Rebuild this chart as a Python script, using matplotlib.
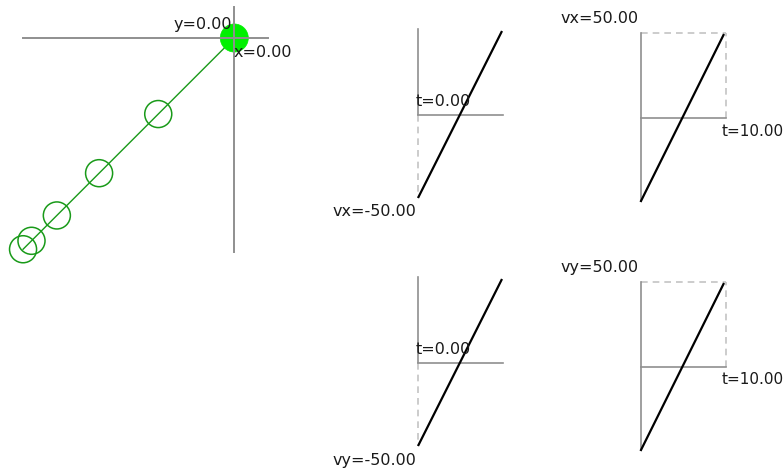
import matplotlib
matplotlib.use("Agg")
import matplotlib.pyplot as plt
from matplotlib.patches import Circle

W, H = 783, 475
DPI = 100

# --- data -------------------------------------------------------------
# ball position (x = y) at successive whole seconds, a = 10, v0 = -50
trail_t = [1, 2, 3, 4, 5]
trail_x = [-45, -80, -105, -120, -125]
trail_y = [-45, -80, -105, -120, -125]
path_x = [0, -125]
path_y = [0, -125]
ball_x, ball_y = 0.0, 0.0

# velocity against time
t_vals = [0, 10]
vx_vals = [-50, 50]
vy_vals = [-50, 50]

x_label = "x=0.00"
y_label = "y=0.00"
t_start_label = "t=0.00"
t_end_label = "t=10.00"
vx_min_label, vx_max_label = "vx=-50.00", "vx=50.00"
vy_min_label, vy_max_label = "vy=-50.00", "vy=50.00"

# --- styling ----------------------------------------------------------
AXIS_GREY = "#8f8f8f"
DASH_GREY = "#c4c4c4"
TRAIL_GREEN = "#199a19"
BALL_GREEN = "#00f000"
FONT = dict(family="DejaVu Sans", size=11.5, color="#1a1a1a")

fig = plt.figure(figsize=(W / DPI, H / DPI), dpi=DPI)
fig.patch.set_facecolor("white")


def px_axes(x0, y0, x1, y1):
    """Axes occupying a pixel box (y measured from the top)."""
    ax = fig.add_axes([x0 / W, 1 - y1 / H, (x1 - x0) / W, (y1 - y0) / H])
    ax.set_axis_off()
    return ax


def label(ax, text, xy, dx, dy, ha, size=None):
    style = dict(FONT)
    if size is not None:
        style["size"] = size
    ax.annotate(text, xy=xy, xytext=(dx, dy), textcoords="offset pixels",
                ha=ha, va="baseline", annotation_clip=False, zorder=10,
                **style)


# --- trajectory panel -------------------------------------------------
scale = 1.69          # pixels per unit
ox, oy = 234.3, 38.0  # origin in pixels
bx0, by0, bx1, by1 = 0, 0, 300, 285
ax = px_axes(bx0, by0, bx1, by1)
ax.set_xlim((bx0 - ox) / scale, (bx1 - ox) / scale)
ax.set_ylim(-(by1 - oy) / scale, (oy - by0) / scale)

ax.plot(path_x, path_y, color=TRAIL_GREEN, lw=1.0, zorder=2)
r = 8.0
for px, py in zip(trail_x, trail_y):
    ax.add_patch(Circle((px, py), r, fill=False, ec=TRAIL_GREEN, lw=1.1,
                        zorder=3))
ax.add_patch(Circle((ball_x, ball_y), r + 0.3, fc=BALL_GREEN, ec=BALL_GREEN,
                    lw=0.5, zorder=4))
ax.plot([-125, 20], [0, 0], color=AXIS_GREY, lw=1.4, zorder=5)
ax.plot([0, 0], [-126.5, 18.5], color=AXIS_GREY, lw=1.4, zorder=5)
label(ax, y_label, (0, 0), -2, 9, "right")
label(ax, x_label, (0, 0), -1, -19, "left")


# --- velocity panels --------------------------------------------------
def start_panel(tx0, tx1, yt, yb, v, vmin_text):
    ax = px_axes(tx0, yt, tx1, yb)
    ax.set_xlim(0, 10)
    ax.set_ylim(-50, 50)
    ax.plot([0, 0], [0, 51.8], color=AXIS_GREY, lw=1.2, clip_on=False)
    ax.plot([0, 0], [0, -50.5], color=DASH_GREY, lw=1.2, ls=(0, (4, 3)),
            clip_on=False)
    ax.plot([0, 10.2], [0, 0], color=AXIS_GREY, lw=1.2, clip_on=False)
    ax.plot(t_vals, v, color="black", lw=1.6, clip_on=False, zorder=4)
    label(ax, t_start_label, (0, 0), -2.5, 9, "left")
    label(ax, vmin_text, (0, -50), -2, -19.5, "right")


def end_panel(tx0, tx1, yt, yb, v, vmax_text):
    ax = px_axes(tx0, yt, tx1, yb)
    ax.set_xlim(0, 10)
    ax.set_ylim(-50, 50)
    ax.plot([0, 10.3], [51, 51], color=DASH_GREY, lw=1.2, ls=(0, (4, 3)),
            clip_on=False)
    ax.plot([10.3, 10.3], [0, 51], color=DASH_GREY, lw=1.2, ls=(0, (4, 3)),
            clip_on=False)
    ax.plot([0, 0], [-50, 51], color=AXIS_GREY, lw=1.2, clip_on=False)
    ax.plot([0, 10.3], [0, 0], color=AXIS_GREY, lw=1.2, clip_on=False)
    ax.plot(t_vals, v, color="black", lw=1.6, clip_on=False, zorder=4)
    label(ax, vmax_text, (0, 51), -2, 10, "right")
    label(ax, t_end_label, (10, 0), -2, -17.5, "left", size=11)


start_panel(418.5, 501.5, 32, 197, vx_vals, vx_min_label)
end_panel(641, 723.5, 35, 201, vx_vals, vx_max_label)
start_panel(418.5, 501.5, 280, 445, vy_vals, vy_min_label)
end_panel(641, 723.5, 284, 450, vy_vals, vy_max_label)

fig.savefig("out.png", dpi=DPI, facecolor="white")
